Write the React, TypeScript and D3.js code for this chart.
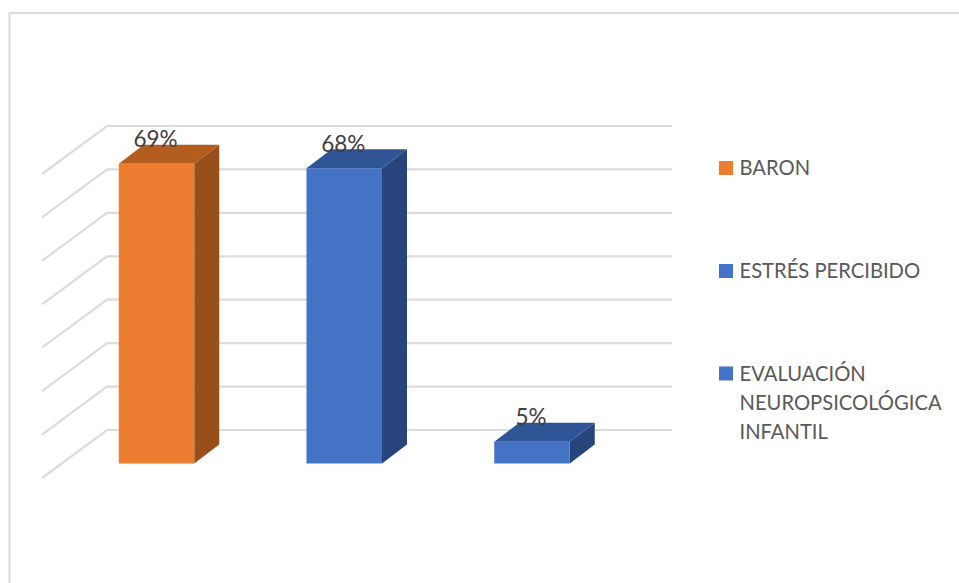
import React from "react";
import * as d3 from "d3";

// Instrument names and their share of use
const categories = ["BARON", "ESTRÉS PERCIBIDO", "EVALUACIÓN NEUROPSICOLÓGICA INFANTIL"];
const values = [69, 68, 5];
const valueLabels = ["69%", "68%", "5%"];
const gridValues = [0, 10, 20, 30, 40, 50, 60, 70];
const legendLines = [["BARON"], ["ESTRÉS PERCIBIDO"], ["EVALUACIÓN", "NEUROPSICOLÓGICA", "INFANTIL"]];

const palette = [
  { front: "#ED7D31", top: "#B35D20", side: "#97501B" },
  { front: "#4472C4", top: "#2F5597", side: "#27457C" },
  { front: "#4472C4", top: "#2F5597", side: "#27457C" },
];

const WIDTH = 959;
const HEIGHT = 583;
const BAR_WIDTH = 75.5;
const DEPTH_X = 25;
const DEPTH_Y = 19;
const GRID = "#DCDCDC";
const FONT = "Lato, 'Noto Sans', sans-serif";

// Value position on the rear wall; the bars stand forward of it
const yWall = d3.scaleLinear().domain([0, 70]).range([430, 126]);
const yFront = d3.scaleLinear().domain([0, 70]).range([463.5, 159.5]);
const xCenter = d3.scalePoint<string>().domain(categories).range([156.5, 532]);

const points = (pts: [number, number][]) => pts.map((p) => p.join(",")).join(" ");

export default function App() {
  return (
    <svg
      width={WIDTH}
      height={HEIGHT}
      viewBox={`0 0 ${WIDTH} ${HEIGHT}`}
      style={{ position: "fixed", left: 0, top: 0, background: "#fff", display: "block" }}
    >
      {/* chart frame, left and top edges */}
      <path d={`M9.5 ${HEIGHT} V13 H${WIDTH}`} fill="none" stroke={GRID} strokeWidth={2} />

      {/* gridlines running along the side wall and across the back */}
      {gridValues.map((v) => {
        const y = yWall(v);
        return (
          <polyline
            key={v}
            points={points([
              [42, y + 48],
              [107, y],
              [672, y],
            ])}
            fill="none"
            stroke={GRID}
            strokeWidth={2.2}
          />
        );
      })}

      {/* 3D columns */}
      {categories.map((c, i) => {
        const cx = xCenter(c) as number;
        const x0 = cx - BAR_WIDTH / 2;
        const x1 = cx + BAR_WIDTH / 2;
        const yT = yFront(values[i]);
        const yB = yFront(0);
        const col = palette[i];
        return (
          <g key={c}>
            <polygon
              points={points([
                [x1, yT],
                [x1 + DEPTH_X, yT - DEPTH_Y],
                [x1 + DEPTH_X, yB - DEPTH_Y],
                [x1, yB],
              ])}
              fill={col.side}
            />
            <polygon
              points={points([
                [x0, yT],
                [x0 + DEPTH_X, yT - DEPTH_Y],
                [x1 + DEPTH_X, yT - DEPTH_Y],
                [x1, yT],
              ])}
              fill={col.top}
            />
            <rect x={x0} y={yT} width={BAR_WIDTH} height={yB - yT} fill={col.front} />
          </g>
        );
      })}

      {/* value labels sit over the column tops */}
      {categories.map((c, i) => (
        <text
          key={c}
          x={(xCenter(c) as number) - 1}
          y={yFront(values[i]) - 16.5}
          textAnchor="middle"
          fontFamily={FONT}
          fontSize={22.5}
          fill="#404040"
        >
          {valueLabels[i]}
        </text>
      ))}

      {/* legend */}
      {legendLines.map((lines, i) => {
        const yMid = [168, 271, 373.5][i];
        return (
          <g key={lines[0]}>
            <rect x={719} y={yMid - 7} width={14} height={14} fill={palette[i].front} />
            {lines.map((line, j) => (
              <text
                key={line}
                x={739.5}
                y={yMid + 7 + j * 29}
                fontFamily={FONT}
                fontSize={20.2}
                fill="#595959"
              >
                {line}
              </text>
            ))}
          </g>
        );
      })}
    </svg>
  );
}
